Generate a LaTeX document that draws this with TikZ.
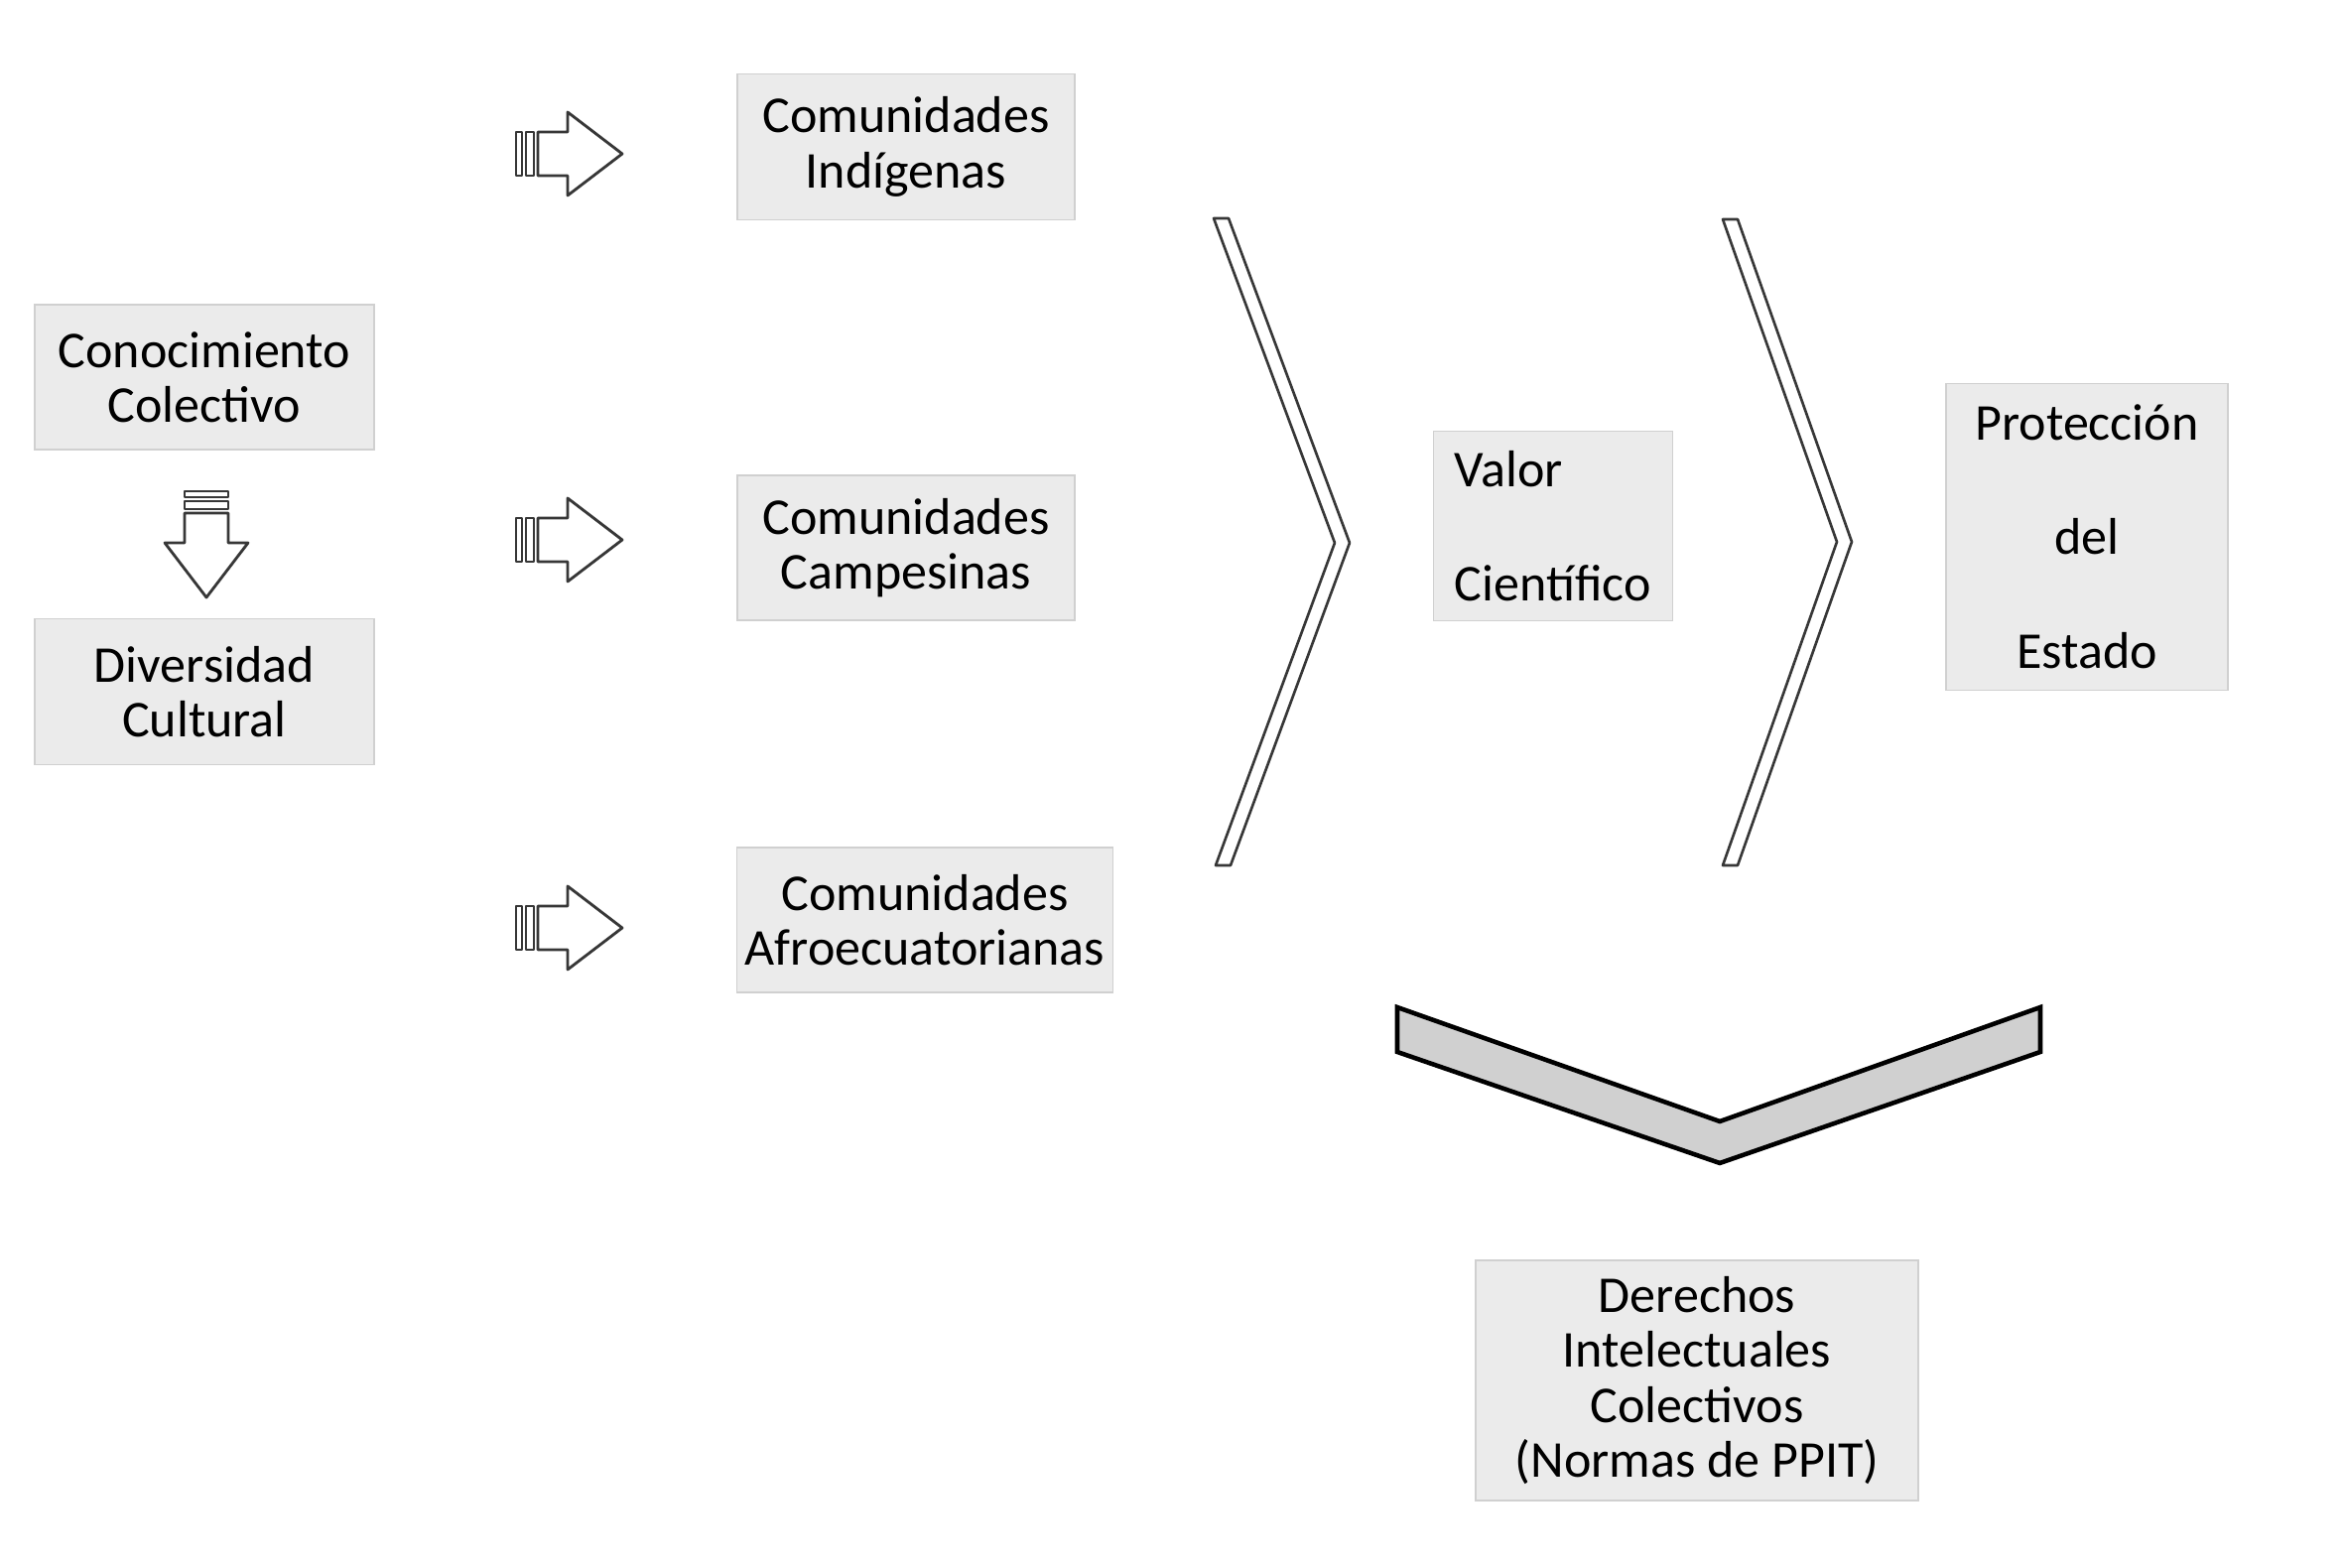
\documentclass[tikz,border=0pt]{standalone}
\usepackage{fontspec}
\setmainfont{Carlito}
\usetikzlibrary{positioning}
\definecolor{boxfill}{RGB}{235,235,235}
\definecolor{boxline}{RGB}{208,208,208}
\definecolor{chevfill}{RGB}{208,208,208}
\definecolor{arrline}{RGB}{55,55,55}

\begin{document}
\begin{tikzpicture}[x=0.01cm, y=-0.01cm,
    box/.style={rectangle, draw=boxline, line width=0.5pt, fill=boxfill, align=center, inner sep=0pt, font=\fontsize{14.8}{15.7}\selectfont},
    widebox/.style={box, font=\fontsize{14.8}{32.7}\selectfont},
    arrpart/.style={draw=arrline, fill=white, line width=0.8pt, line join=round},
    chevline/.style={draw=arrline, fill=white, line width=0.75pt, line join=round},
    chevbold/.style={draw=black, fill=chevfill, line width=1.3pt, line join=miter},
    striparrow/.pic={
        \draw[arrpart] (0,-22) rectangle (6,22);
        \draw[arrpart] (10,-22) rectangle (18,22);
        \draw[arrpart] (22,-22) -- (52,-22) -- (52,-42) -- (107,0) -- (52,42) -- (52,22) -- (22,22) -- cycle;
    }
]
\fill[white] (0,0) rectangle (2362,1580);
\useasboundingbox (0,0) rectangle (2362,1580);

% columna izquierda
\node[box, minimum width=3.42cm, minimum height=1.46cm] (concol) at (206,380) {Conocimiento\\Colectivo};
\node[box, minimum width=3.42cm, minimum height=1.47cm] (divcul) at (206,697) {Diversidad\\Cultural};
\pic[rotate=-90] at (208,495) {striparrow};

% comunidades
\node[box, minimum width=3.40cm, minimum height=1.47cm] (indig) at (913,148) {Comunidades\\Indígenas};
\node[box, minimum width=3.40cm, minimum height=1.46cm] (campe) at (913,552) {Comunidades\\Campesinas};
\node[box, minimum width=3.79cm, minimum height=1.46cm] (afro) at (932,927) {Comunidades\\Afroecuatorianas};
\pic at (520,155) {striparrow};
\pic at (520,544) {striparrow};
\pic at (520,935) {striparrow};

% valor y proteccion
\draw[chevline] (1223,220) -- (1238,220) -- (1360,547) -- (1240,872) -- (1225,872) -- (1345,547) -- cycle;
\node[widebox, align=left, minimum width=2.41cm, minimum height=1.91cm] (valor) at (1565,530) {Valor\\Científico};
\draw[chevline] (1736,221) -- (1751,221) -- (1866,546) -- (1751,872) -- (1736,872) -- (1851,546) -- cycle;
\node[widebox, minimum width=2.84cm, minimum height=3.09cm] (estado) at (2103,541) {Protección\\del\\Estado};

% derechos
\draw[chevbold] (1408,1015) -- (1733,1130) -- (2056,1015) -- (2056,1060) -- (1733,1172) -- (1408,1060) -- cycle;
\node[box, minimum width=4.46cm, minimum height=2.42cm] (derechos) at (1710,1391) {Derechos\\Intelectuales\\Colectivos\\(Normas de PPIT)};
\end{tikzpicture}
\end{document}
